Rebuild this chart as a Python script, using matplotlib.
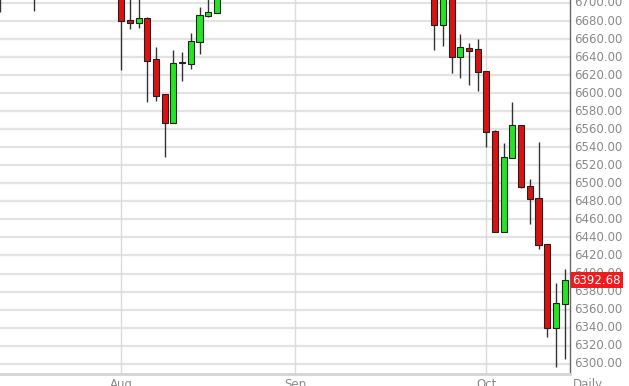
import matplotlib
matplotlib.use("Agg")
import matplotlib.pyplot as plt

# trading-day index (0 = 1 Aug), only candles that fall inside the visible range
days   = [-14, -10, 0, 1, 2, 3, 4, 5, 6, 7, 8, 9, 10, 11,
          36, 37, 38, 39, 40, 41, 42, 43, 44, 45, 46, 47, 48, 49, 50, 51]
opens  = [6720, 6715, 6730, 6681, 6677.5, 6683, 6637.6, 6598.8, 6567, 6633, 6632.4, 6656.4, 6686, 6689,
          6720, 6676, 6712, 6639.8, 6650.4, 6648.7, 6624.3, 6558.4, 6446.4, 6528.4, 6564.7, 6497.4, 6484.1, 6432.7, 6339.9, 6366.2]
highs  = [6740, 6735, 6745, 6710, 6705, 6684, 6650.9, 6599, 6647.9, 6645.3, 6666.4, 6695.9, 6710, 6725,
          6735, 6715, 6720, 6665.3, 6655.3, 6660.4, 6625, 6559, 6544.4, 6590.6, 6565, 6504.8, 6545.5, 6433, 6389.2, 6405.4]
lows   = [6690, 6691, 6625.7, 6671, 6672, 6590, 6591.3, 6529.2, 6567, 6613.8, 6626.8, 6643, 6685, 6689,
          6647.9, 6652.7, 6622.7, 6616.5, 6609, 6602.7, 6540, 6446, 6446, 6528, 6495, 6454.6, 6426.9, 6330, 6296, 6305.2]
closes = [6725, 6720, 6680, 6678, 6683.7, 6635.7, 6597, 6567, 6633.8, 6634, 6657.9, 6687, 6690.4, 6720,
          6676, 6710, 6639.8, 6650.9, 6646.8, 6623.2, 6557.3, 6446.4, 6529.6, 6564.7, 6495.6, 6482.6, 6431.6, 6339.9, 6367.3, 6392.68]

month_pos = [0, 20, 42]
month_labels = ["Aug", "Sep", "Oct"]
y_ticks = list(range(6300, 6701, 20))
last_price = 6392.68

fig = plt.figure(figsize=(6.29, 3.86), dpi=100)
ax = fig.add_axes([0, 12 / 386, 570 / 629, 374 / 386])
ax.set_xlim(-13.95, 51.62)
ax.set_ylim(6288.6, 6703.3)

# grid
for v in y_ticks:
    ax.axhline(v, color="#e3e3e3", lw=1.6, zorder=0)
for p in month_pos:
    ax.axvline(p, color="#dcdcdc", lw=1.0, zorder=0)

# candles
for d, o, h, l, c in zip(days, opens, highs, lows, closes):
    up = c >= o
    ax.vlines(d, l, h, color="#333333", lw=1.0, zorder=2)
    bottom = min(o, c)
    height = max(abs(c - o), 0.3)
    ax.bar(d, height, bottom=bottom, width=0.7,
           color="#22e622" if up else "#dd1111",
           edgecolor="#222222", linewidth=0.8, zorder=3)

for s in ["top", "left", "bottom"]:
    ax.spines[s].set_visible(False)
ax.spines["right"].set_color("#666666")
ax.spines["right"].set_linewidth(1.0)
ax.set_xticks([])
ax.set_yticks([])

# bottom border
fig.add_artist(plt.Line2D([0, 570 / 629], [12 / 386, 12 / 386], color="#d4d4d4", lw=2.0))

# y labels on the right
for v in y_ticks:
    ax.text(51.62 + 0.5, v, f"{v:.2f}", color="#8a8a8a", fontsize=8.5,
            va="center", ha="left", clip_on=False)

# last price tag
ax.text(51.62 + 0.3, last_price, f"{last_price:.2f}", color="white", fontsize=8.5,
        va="center", ha="left", clip_on=False, zorder=5,
        bbox=dict(boxstyle="square,pad=0.12", fc="#ee1c1c", ec="none"))

# month labels
for p, lab in zip(month_pos, month_labels):
    ax.text(p, 6288.6 - 4.5, lab, color="#8a8a8a", fontsize=8.5,
            ha="center", va="top", clip_on=False)
ax.text(53.7, 6288.6 - 4.5, "Daily", color="#8a8a8a", fontsize=8.5,
        ha="center", va="top", clip_on=False)

fig.savefig("out.png", dpi=100)
